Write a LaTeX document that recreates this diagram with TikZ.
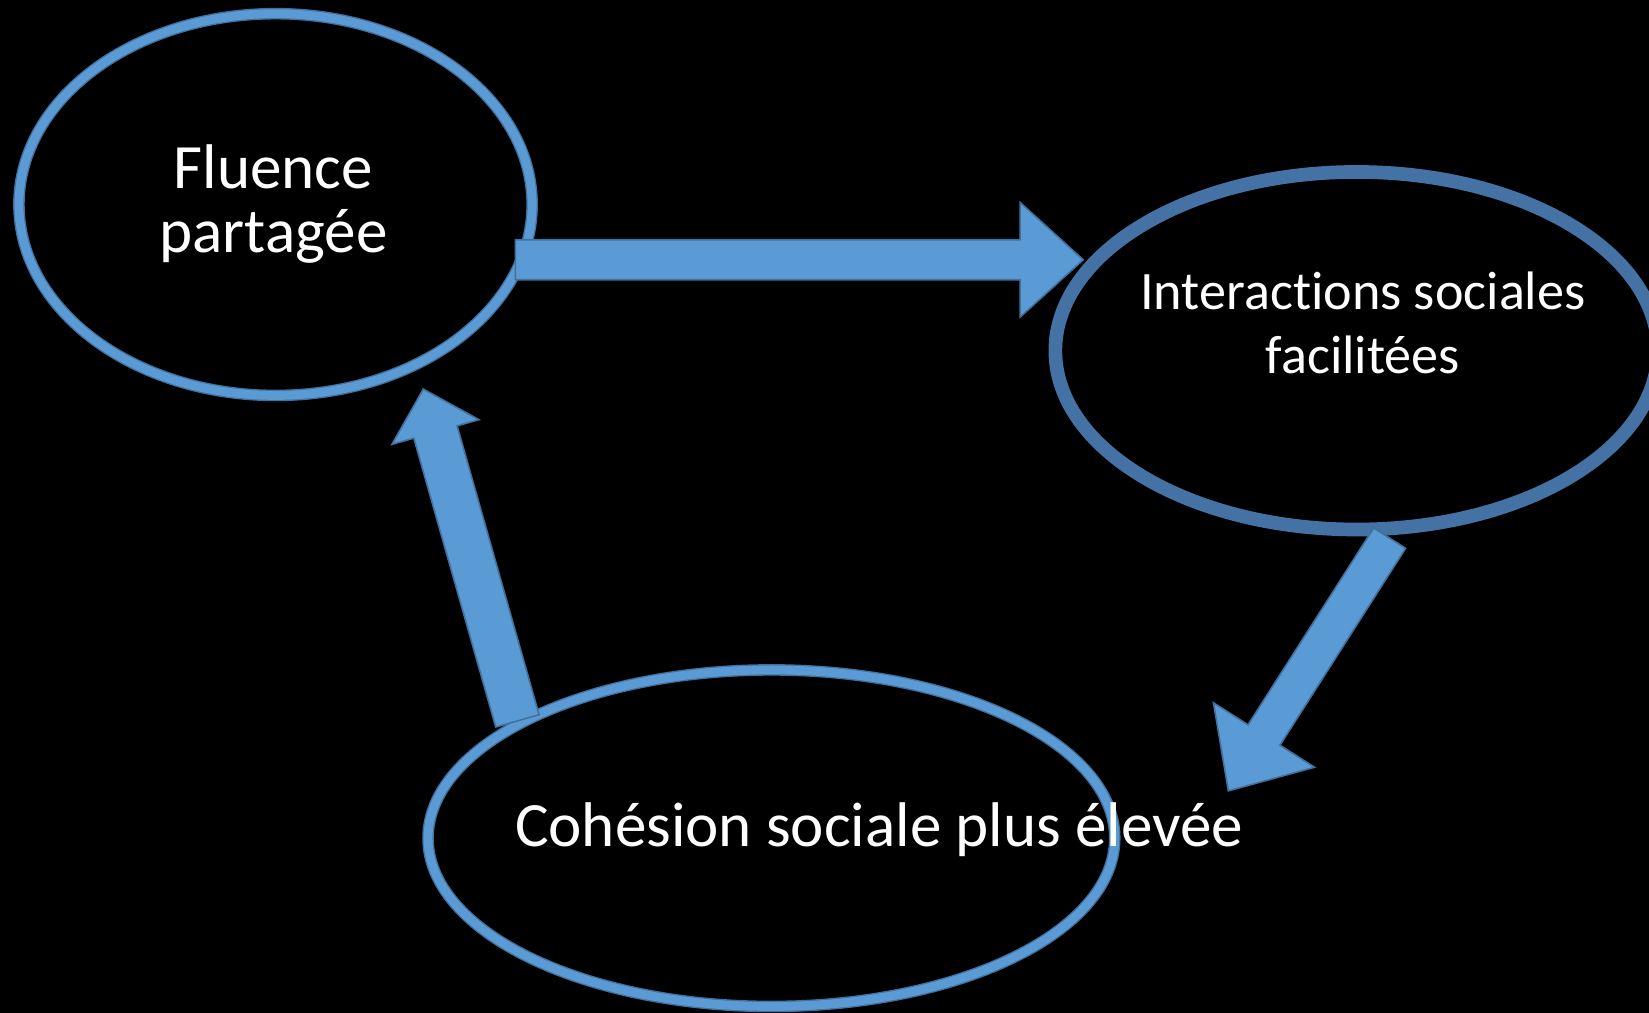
\documentclass[tikz,border=0pt]{standalone}
\usepackage{fontspec}
\setmainfont{Carlito}[Ligatures=NoCommon]
\usetikzlibrary{calc,shapes.geometric}
\definecolor{bblue}{HTML}{5B9BD5}
\definecolor{bedge}{HTML}{41719C}
\definecolor{bring}{HTML}{4472A4}
\newcommand{\blockarrow}[5]{%
  \coordinate (#1-#2-hb) at ($(#2)!#5!(#1)$);
  \filldraw[blockarr]
    ($(#1)!#3!90:(#2)$) -- ($(#1-#2-hb)!#3!90:(#2)$) -- ($(#1-#2-hb)!#4!90:(#2)$)
    -- (#2) -- ($(#1-#2-hb)!#4!-90:(#2)$) -- ($(#1-#2-hb)!#3!-90:(#2)$)
    -- ($(#1)!#3!-90:(#2)$) -- cycle;
}
\tikzset{
  ringA/.style={ellipse, draw=bedge, line width=1.3pt, double=bblue, double distance=8.4pt, inner sep=0pt},
  ringB/.style={ellipse, draw=bring, line width=13pt, inner sep=0pt},
  blockarr/.style={fill=bblue, draw=bedge, line width=1.5pt, line join=miter},
  bigtxt/.style={text=white, font=\fontsize{60}{61}\selectfont, align=center, inner sep=0pt},
  midtxt/.style={text=white, font=\fontsize{51.5}{61}\selectfont, align=center, inner sep=0pt},
}
\begin{document}
\begin{tikzpicture}[x=1pt,y=-1pt]
\fill[black] (0,0) rectangle (1568,963);
\useasboundingbox (0,0) rectangle (1568,963);

\node[ringA, minimum width=488pt, minimum height=363pt] (fluence) at (262,194.5) {};
\node[ringB, minimum width=573pt, minimum height=340pt] (inter) at (1290,333.5) {};
\node[ringA, minimum width=653pt, minimum height=320pt] (cohesion) at (733.5,797) {};

\coordinate (a1s) at (490,247);
\coordinate (a1t) at (1030,247);
\coordinate (a2s) at (1321.4,511.7);
\coordinate (a2t) at (1168,752);
\coordinate (a3s) at (492,685.5);
\coordinate (a3t) at (402.5,370);

\blockarrow{a1s}{a1t}{19pt}{54.5pt}{60pt}
\blockarrow{a2s}{a2t}{18pt}{57pt}{63pt}
\blockarrow{a3s}{a3t}{21.4pt}{43pt}{42.4pt}

\node[bigtxt, anchor=base] (tfluence) at (260,240) {Fluence\\partagée};
\node[midtxt, anchor=base] (tinter) at (1296,355) {Interactions sociales\\facilitées};
\node[bigtxt, anchor=base] (tcohesion) at (836,805) {Cohésion sociale plus élevée};
\end{tikzpicture}
\end{document}
